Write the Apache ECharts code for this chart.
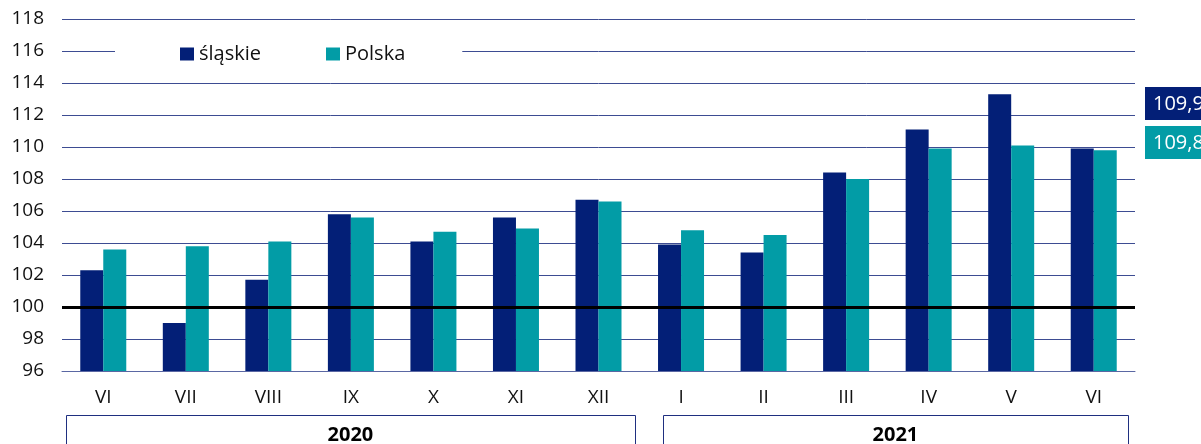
<!DOCTYPE html>
<html><head><meta charset="utf-8">
<script src="https://cdn.jsdelivr.net/npm/echarts@6/dist/echarts.min.js"></script>
<style>html,body{margin:0;padding:0;background:#fff}#c{width:1201px;height:444px}</style>
</head><body><div id="c"></div>
<script>
const categories = ['VI','VII','VIII','IX','X','XI','XII','I','II','III','IV','V','VI'];
const slaskie = [102.3, 99.0, 101.7, 105.8, 104.1, 105.6, 106.7, 103.9, 103.4, 108.4, 111.1, 113.3, 109.9];
const polska  = [103.6, 103.8, 104.1, 105.6, 104.7, 104.9, 106.6, 104.8, 104.5, 108.0, 109.9, 110.1, 109.8];
const years = [{label:'2020', from:0, to:6}, {label:'2021', from:7, to:12}];
const seriesNames = ['śląskie','Polska'];
const colors = ['#031f77','#029ca6'];
const FONT = 'Open Sans';
const fmt = v => v.toFixed(1).replace('.', ',');

const chart = echarts.init(document.getElementById('c'));
chart.setOption({
  animation:false,
  textStyle:{fontFamily:FONT},
  grid:{left:62,right:66,top:19,bottom:73},
  legend:{
    data:seriesNames, left:115, top:39, backgroundColor:'#fff',
    padding:[5,57,5,65], itemWidth:14, itemHeight:13, itemGap:65,
    icon:'rect', textStyle:{fontFamily:FONT,fontSize:20,color:'#111'}
  },
  xAxis:{type:'category', data:categories,
    axisLine:{lineStyle:{color:'#5a67a3',width:1}}, axisTick:{show:false},
    axisLabel:{fontFamily:FONT,fontSize:19,color:'#111',margin:17}},
  yAxis:{type:'value', min:96, max:118, interval:2,
    axisLine:{show:false}, axisTick:{show:false},
    axisLabel:{fontFamily:FONT,fontSize:19,color:'#111',margin:18},
    splitLine:{lineStyle:{color:'#3d4c92',width:1}}},
  series:[
    {name:seriesNames[0], type:'bar', data:slaskie, barWidth:23, barGap:'0%',
     itemStyle:{color:colors[0]},
     markLine:{silent:true, symbol:'none', label:{show:false},
       lineStyle:{color:'#000',width:3,type:'solid'}, data:[{yAxis:100}]}},
    {name:seriesNames[1], type:'bar', data:polska, barWidth:23,
     itemStyle:{color:colors[1]}}
  ]
});

const g = [];
const step = chart.convertToPixel({xAxisIndex:0}, 1) - chart.convertToPixel({xAxisIndex:0}, 0);
const insets = [[4,5],[23,7]];
years.forEach((y,i) => {
  const x0 = chart.convertToPixel({xAxisIndex:0}, y.from) - step/2 + insets[i][0];
  const x1 = chart.convertToPixel({xAxisIndex:0}, y.to) + step/2 - insets[i][1];
  g.push({type:'rect', shape:{x:Math.round(x0)+0.5, y:415.5, width:Math.round(x1-x0), height:40},
    style:{fill:'#fff', stroke:'#1f2f80', lineWidth:1}});
  g.push({type:'text', x:(x0+x1)/2, y:435,
    style:{text:y.label, font:'bold 20px "Open Sans"', fill:'#000', align:'center', verticalAlign:'middle'}});
});
const last = categories.length - 1;
[[slaskie,87],[polska,126]].forEach((s,i) => {
  g.push({type:'rect', shape:{x:1145, y:s[1], width:70, height:33}, style:{fill:colors[i]}});
  g.push({type:'text', x:1153, y:s[1]+17,
    style:{text:fmt(s[0][last]), font:'20px "Open Sans"', fill:'#fff', verticalAlign:'middle'}});
});
chart.setOption({graphic:g});
</script></body></html>
